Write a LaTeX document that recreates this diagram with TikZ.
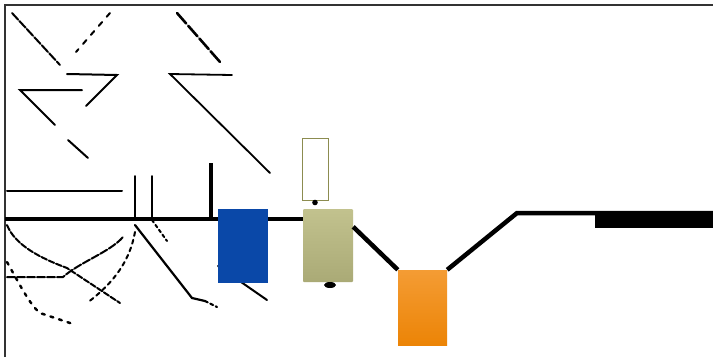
\documentclass[tikz,border=0pt]{standalone}
\usetikzlibrary{calc}

\definecolor{tankblue}{RGB}{10,72,168}
\definecolor{khakitop}{RGB}{194,194,142}
\definecolor{khakibot}{RGB}{170,170,118}
\definecolor{orangetop}{RGB}{244,156,52}
\definecolor{orangebot}{RGB}{236,132,6}
\definecolor{olive}{RGB}{140,140,80}

\tikzset{
    sketch/.style={line width=2pt,line cap=round},
    mainline/.style={line width=4.5pt},
    box/.style={inner sep=0pt,minimum width=50pt,minimum height=74pt}
}

\begin{document}
\begin{tikzpicture}[x=1pt,y=-1pt]
    \useasboundingbox (0,0) rectangle (713,357);
    \fill[white] (0,0) rectangle (713,357);
    \draw[line width=2.4pt,black!80] (5,357) -- (5,5) -- (713,5);

    % upper strokes
    \draw[sketch,dash pattern=on 9pt off 2pt] (12,13) -- (60,65);
    \draw[sketch,dash pattern=on 5pt off 7pt] (110,13) -- (76,52);
    \draw[sketch] (67,74) -- (117,75) -- (86,106);
    \draw[sketch] (82,90) -- (20,90) -- (55,125);
    \draw[sketch] (68,140) -- (88,158);
    \draw[sketch,line width=2.6pt,dash pattern=on 14pt off 3pt] (177,13) -- (220,62);
    \draw[sketch,line width=1.8pt] (232,75) -- (170,74) -- (270,173);

    % verticals over the main line
    \draw[mainline] (211,163) -- (211,219);
    \draw[sketch] (7,191) -- (122,191);
    \draw[sketch] (135,176) -- (135,219);
    \draw[sketch] (152,176) -- (152,219);

    % lower strokes
    \draw[sketch,dash pattern=on 6pt off 2pt] (7,225) .. controls (15,245) and (40,258) .. (67,268) -- (120,303);
    \draw[sketch,dash pattern=on 8pt off 2pt] (7,277) -- (63,277) .. controls (80,262) and (110,252) .. (123,237);
    \draw[sketch,dash pattern=on 4pt off 4pt] (135,232) .. controls (130,260) and (115,282) .. (87,303);
    \draw[sketch,line width=2.4pt,dash pattern=on 3pt off 6pt] (7,262) .. controls (20,285) and (30,305) .. (40,313) -- (73,324);
    \draw[sketch,line width=2.2pt] (135,225) -- (192,298) -- (205,301);
    \draw[sketch,line width=2.2pt,dash pattern=on 3pt off 3pt] (205,301) -- (217,307);
    \draw[sketch,dash pattern=on 3pt off 3pt] (152,220) -- (167,241);
    \draw[sketch] (218,266) -- (267,300);

    % tanks
    \node[box,fill=tankblue] (blue) at (243,246) {};
    \node[box,minimum height=73pt,rounded corners=1pt,top color=khakitop,bottom color=khakibot] (khaki) at (328,245.5) {};
    \node[box,minimum width=26pt,minimum height=62pt,draw=olive,line width=0.6pt,fill=white] (gauge) at (315,169) {};
    \node[box,minimum width=49pt,minimum height=75pt,top color=orangetop,bottom color=orangebot] (orange) at (422.5,307.5) {};

    \fill (315,202.5) circle (2.8);
    \fill (330,285) ellipse (6 and 3);

    % pipe
    \coordinate (start) at (5,219);
    \coordinate (bend) at (517,213);
    \coordinate (end) at (713,213);
    \draw[mainline] (start) -- (blue.west |- start);
    \draw[mainline] (blue.east |- start) -- (khaki.west |- start);
    \draw[mainline] ([yshift=-18pt]khaki.north east) -- (orange.north west);
    \draw[mainline] (orange.north east) -- (bend) -- (end);
    \fill (595,212) rectangle (713,228);
\end{tikzpicture}
\end{document}
